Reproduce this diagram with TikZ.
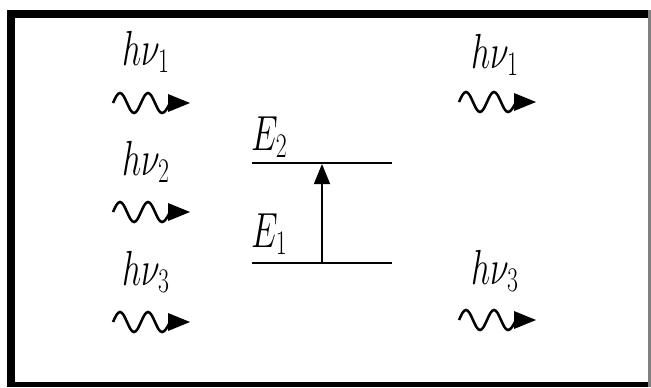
\RequirePackage{fix-cm}
\documentclass[tikz,border=0pt]{standalone}
\usepackage{graphicx}
\usetikzlibrary{arrows.meta}
\tikzset{
  lbl/.style={inner sep=0pt, anchor=base, font=\fontsize{25.5}{30}\selectfont},
  elbl/.style={inner sep=0pt, anchor=base west, font=\fontsize{25.5}{30}\selectfont},
  level/.style={line width=2.2pt},
  uparrow/.style={line width=1.2pt, -{Triangle[length=15pt,width=12pt]}},
  photon/.pic={
    \draw[line width=1.9pt] (0,0) sin (7,-10) cos (14,0) sin (21,10) cos (28,0)
      sin (35,-10) cos (42,0) sin (49,10) cos (57,0);
    \fill (55,-9) -- (77,0) -- (55,9) -- cycle;
  }
}
\newcommand{\stretchy}[1]{\scalebox{1}[1.45]{$#1$}}
\begin{document}
\begin{tikzpicture}[x=0.75pt,y=-0.75pt]
\useasboundingbox (0,0) rectangle (651,387);
% frame
\fill[black] (7,10) rectangle (15,387);
\fill[black] (7,10) rectangle (651,18);
\fill[black] (7,382) rectangle (651,387);
\fill[gray] (648,10) rectangle (651,387);
% left photons
\node[lbl] (l1) at (146,65) {\stretchy{h\nu_1}};
\node[lbl] (l2) at (146,175) {\stretchy{h\nu_2}};
\node[lbl] (l3) at (146,285) {\stretchy{h\nu_3}};
\pic at (113,103) {photon};
\pic at (113,212) {photon};
\pic at (113,322) {photon};
% right photons
\node[lbl] (r1) at (495,68) {\stretchy{h\nu_1}};
\node[lbl] (r3) at (495,284) {\stretchy{h\nu_3}};
\pic at (459,102) {photon};
\pic at (459,320) {photon};
% levels
\coordinate (e2l) at (252,163);
\coordinate (e2r) at (392,163);
\coordinate (e1l) at (252,263);
\coordinate (e1r) at (392,263);
\draw[level] (e2l) -- (e2r);
\draw[level] (e1l) -- (e1r);
\node[elbl] (E2) at (251,150) {\stretchy{E_2}};
\node[elbl] (E1) at (251,247) {\stretchy{E_1}};
\coordinate (a1) at (322,263);
\coordinate (a2) at (322,164);
\draw[uparrow] (a1) -- (a2);
\end{tikzpicture}
\end{document}
